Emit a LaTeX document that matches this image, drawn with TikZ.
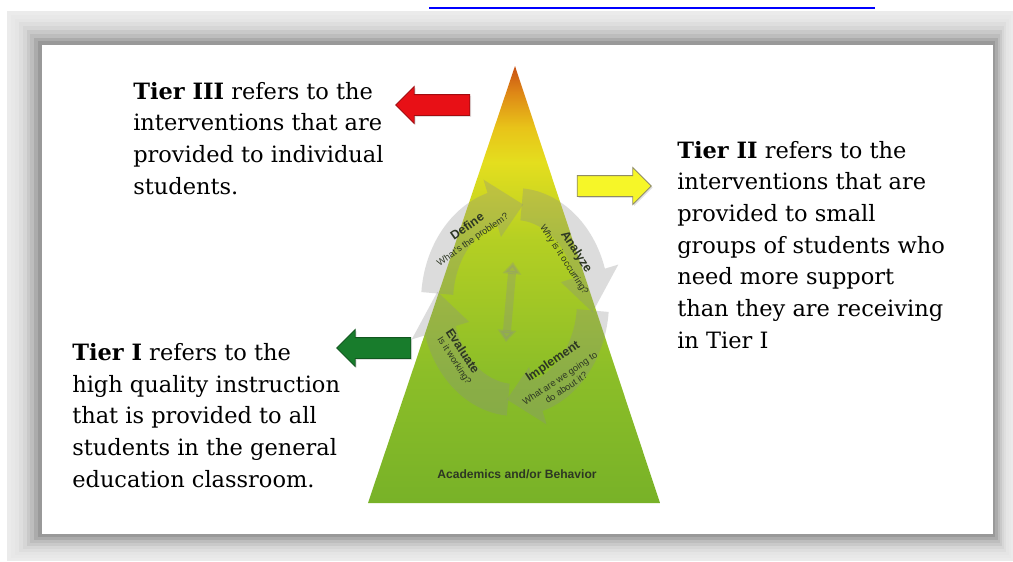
\documentclass[tikz,border=0pt]{standalone}
\usepackage{fontspec}
\setmainfont{DejaVu Serif}
\newfontfamily\cyclefont{Liberation Sans}
\usetikzlibrary{calc, shapes.arrows, shadows, arrows.meta}

\definecolor{pyrgreen}{RGB}{120,178,40}
\definecolor{pyrmid}{RGB}{140,190,40}
\definecolor{pyrlime}{RGB}{180,207,35}
\definecolor{pyryellow}{RGB}{228,222,30}
\definecolor{pyrgold}{RGB}{232,195,25}
\definecolor{pyrorange}{RGB}{222,135,22}
\definecolor{pyrtop}{RGB}{200,80,20}
\definecolor{arrowred}{RGB}{232,16,22}
\definecolor{arrowyellow}{RGB}{246,246,40}
\definecolor{arrowgreen}{RGB}{24,124,44}
\definecolor{labelgray}{RGB}{45,55,35}

\pgfdeclareverticalshading{tierpyramid}{100bp}{color(0bp)=(pyrgreen); color(25bp)=(pyrgreen);
  color(40bp)=(pyrmid); color(55bp)=(pyrlime); color(64bp)=(pyryellow); color(68bp)=(pyrgold);
  color(72bp)=(pyrorange); color(75bp)=(pyrtop); color(100bp)=(pyrtop)}

\begin{document}
\begin{tikzpicture}
        [x=0.025cm, y=-0.025cm,
        tiertext/.style={anchor=base west, align=left, inner sep=0pt,
          font=\fontsize{16}{22.5}\selectfont},
        tierarrow/.style={single arrow, draw, line width=0.6pt, inner xsep=0pt, inner ysep=0.25cm,
          single arrow head extend=0.2cm, minimum height=1.85cm,
          drop shadow={opacity=0.25, shadow xshift=1pt, shadow yshift=-1pt}},
        cyclearrow/.style={fill=black!45, opacity=0.3},
        cyclehead/.style={font=\cyclefont\bfseries\fontsize{8.8}{10}\selectfont, text=labelgray, inner sep=0pt},
        cyclesub/.style={font=\cyclefont\fontsize{6.6}{8}\selectfont, text=labelgray, inner sep=0pt, align=center}]

    \useasboundingbox (0,0) rectangle (1013,561);

    % frame with soft shadow
    \foreach \i in {0,...,8}
      \fill[black!\the\numexpr 8+\i*\i/2\relax] (7+3.9*\i,11+3.8*\i) rectangle (1013-2.2*\i,561-3*\i);
    \fill[white] (42,45) rectangle (993,534);
    \draw[blue, line width=0.05cm] (429,8) -- (875,8);

    % pyramid
    \shade[shading=tierpyramid] (515,66) -- (660,503) -- (368,503) -- cycle;

    % cycle
    \coordinate (cyc) at (515,302);
    \foreach \s in {5,95,185,275}
      \fill[cyclearrow] ($(cyc)+(\s:94 and 114)$) arc[start angle=\s, end angle=\s+68, x radius=94, y radius=114]
        -- ($(cyc)+(\s+68:108 and 128)$) -- ($(cyc)+(\s+91:78 and 98)$) -- ($(cyc)+(\s+68:48 and 68)$)
        -- ($(cyc)+(\s+68:62 and 82)$) arc[start angle=\s+68, end angle=\s, x radius=62, y radius=82] -- cycle;
    \coordinate (midtop) at (513,262);
    \coordinate (midbot) at (506,342);
    \draw[black!45, opacity=0.3, line width=0.2cm,
      {Triangle[width=0.45cm,length=0.3cm]}-{Triangle[width=0.45cm,length=0.3cm]}] (midtop) -- (midbot);

    \node[cyclehead, rotate=35] (define) at (467,226) {Define};
    \node[cyclesub, rotate=35] (definesub) at (473,240) {What's the problem?};
    \node[cyclehead, rotate=-57] (analyze) at (576,252) {Analyze};
    \node[cyclesub, rotate=-57] (analyzesub) at (564,260) {Why is it occurring?};
    \node[cyclehead, rotate=34] (implement) at (553,362) {Implement};
    \node[cyclesub, rotate=34] (implementsub) at (563,383) {What are we going to\\do about it?};
    \node[cyclehead, rotate=-57] (evaluate) at (463,351) {Evaluate};
    \node[cyclesub, rotate=-57] (evaluatesub) at (454,361) {Is it working?};

    \node[font=\cyclefont\bfseries\fontsize{8.6}{10}\selectfont, text=labelgray] (base) at (517,474)
      {Academics and/or Behavior};

    % tier arrows
    \node[tierarrow, fill=arrowred, draw=arrowred!70!black, shape border rotate=180] (redarrow) at (438,105) {};
    \node[tierarrow, fill=arrowyellow, draw=gray!70!olive] (yellowarrow) at (609,186) {};
    \node[tierarrow, fill=arrowgreen, draw=arrowgreen!70!black, shape border rotate=180] (greenarrow) at (379,348) {};

    % tier texts, placed at the baseline of their last line
    \node[tiertext] (tierthree) at (133,194)
      {\textbf{Tier III} refers to the\\interventions that are\\provided to individual\\students.};
    \node[tiertext] (tiertwo) at (677,348)
      {\textbf{Tier II} refers to the\\interventions that are\\provided to small\\groups of students who\\need more support\\than they are receiving\\in Tier I};
    \node[tiertext] (tierone) at (72,487)
      {\textbf{Tier I} refers to the\\high quality instruction\\that is provided to all\\students in the general\\education classroom.};
\end{tikzpicture}
\end{document}
